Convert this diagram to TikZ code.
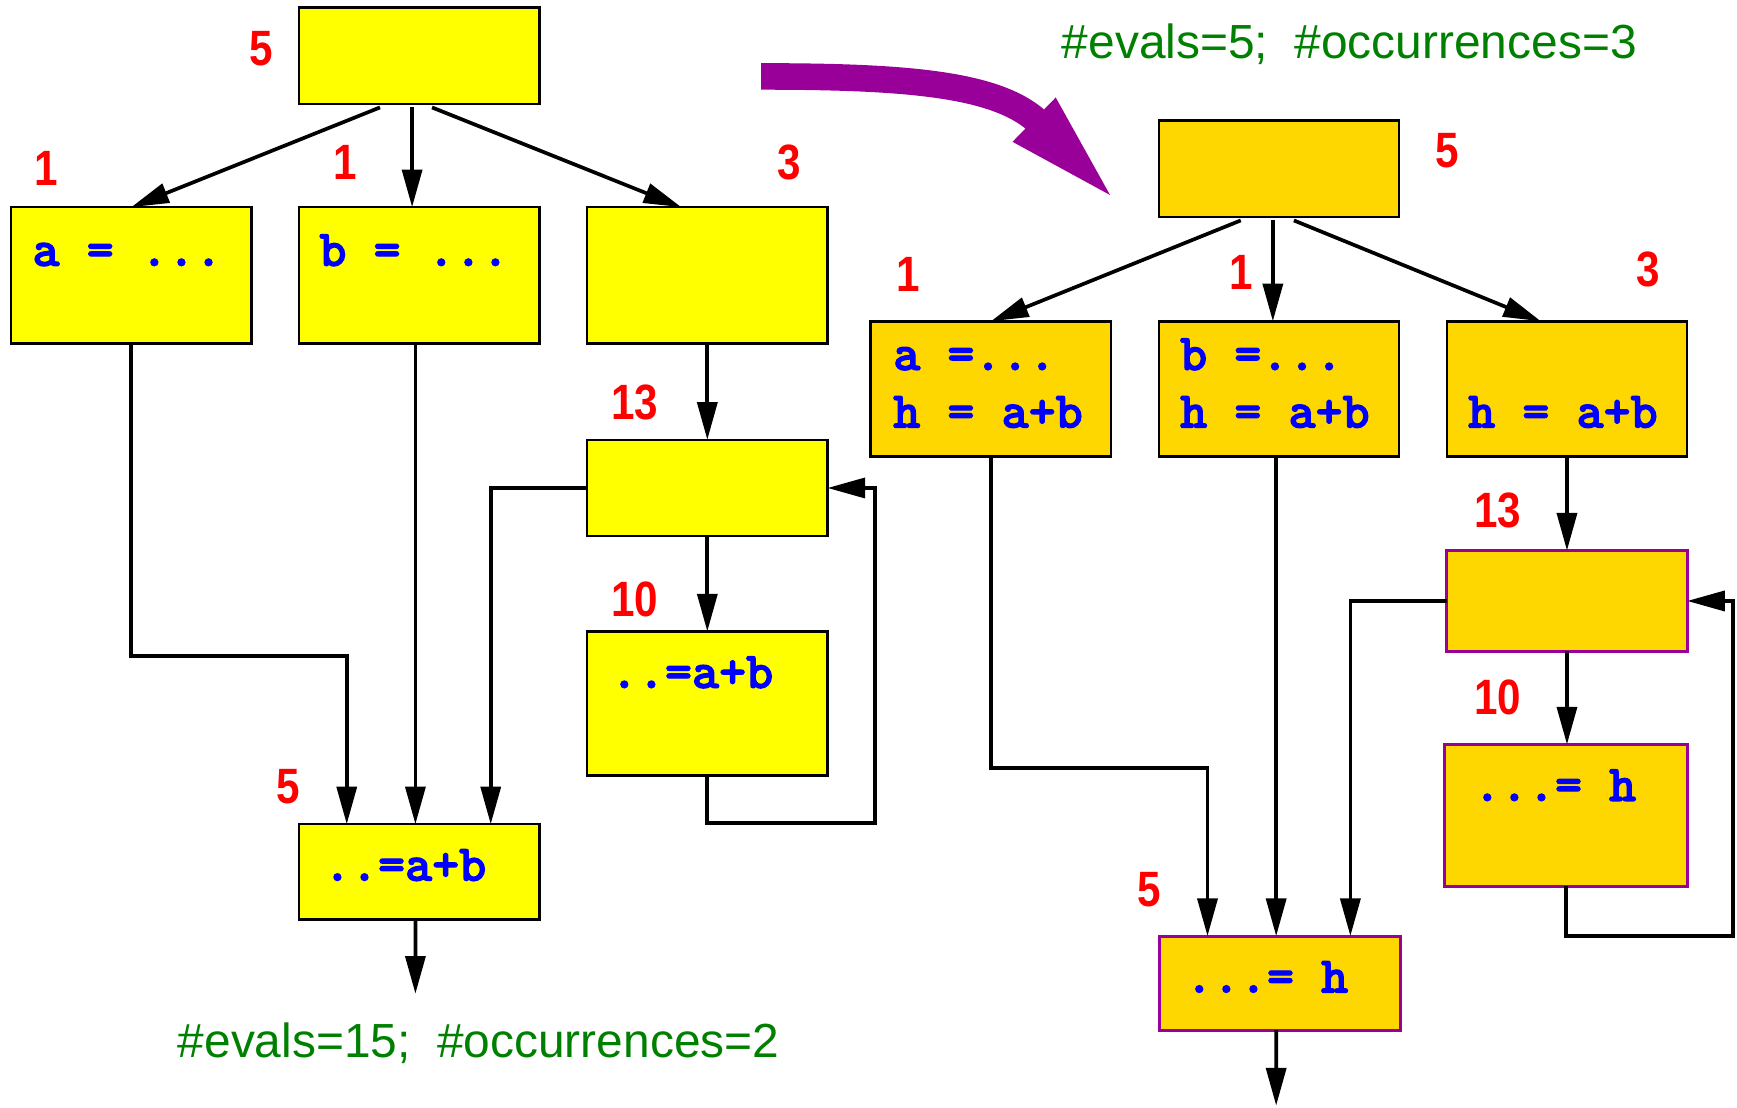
\documentclass[tikz,border=0pt]{standalone}
\usepackage{fontspec}
\setmainfont{Liberation Sans}
\newfontfamily\countfont{Liberation Sans Bold}[FakeStretch=0.85]
\newfontfamily\codefont{lmmonolt10-bold.otf}[FakeBold=2.2]
\usetikzlibrary{arrows.meta}
\definecolor{boxyellow}{RGB}{255,255,0}
\definecolor{boxgold}{RGB}{255,215,0}
\definecolor{loopviolet}{RGB}{153,0,153}
\definecolor{countred}{RGB}{255,0,0}
\definecolor{codeblue}{RGB}{0,0,255}
\definecolor{statgreen}{RGB}{0,128,0}

\begin{document}
\begin{tikzpicture}[x=0.02cm,y=-0.02cm,
  block/.style={draw=black, line width=1.3pt, minimum width=4.34cm, inner sep=0pt, outer sep=0pt},
  oldblock/.style={block, fill=boxyellow},
  newblock/.style={block, fill=boxgold},
  hoisted/.style={newblock, draw=loopviolet, line width=1.5pt},
  countlabel/.style={text=countred, font=\fontsize{25.5}{30}\countfont, inner sep=0pt},
  codetext/.style={text=codeblue, font=\fontsize{26.5}{30}\codefont, anchor=base west, inner sep=0pt},
  stattext/.style={text=statgreen, font=\fontsize{24.6}{30}\selectfont, inner sep=0pt},
  flowarrow/.style={line width=1.9pt, -{Triangle[length=0.68cm,width=0.36cm]}},
]
\useasboundingbox (0,0) rectangle (1568,1000);

% ---------------- original program (left) ----------------
\node[oldblock, minimum height=1.74cm] (T) at (378.5,50.5) {};
\node[oldblock, minimum height=2.46cm] (A) at (118.5,248.5) {};
\node[oldblock, minimum height=2.46cm] (B) at (378.5,248.5) {};
\node[oldblock, minimum height=2.46cm] (C) at (638.5,248.5) {};
\node[oldblock, minimum height=1.74cm] (D) at (638.5,440.5) {};
\node[oldblock, minimum height=2.60cm] (E) at (638.5,635) {};
\node[oldblock, minimum height=1.72cm] (F) at (378.5,787) {};

\node[codetext] (Atxt) at (29,240) {a = ...};
\node[codetext] (Btxt) at (288,240) {b = ...};
\node[codetext] (Etxt) at (551,621) {..=a+b};
\node[codetext] (Ftxt) at (292,795) {..=a+b};

\node[countlabel] (nT) at (236,44) {5};
\node[countlabel] (nA) at (42,152) {1};
\node[countlabel] (nB) at (312,147) {1};
\node[countlabel] (nC) at (712,147) {3};
\node[countlabel] (nD) at (573,363) {13};
\node[countlabel] (nE) at (573,541) {10};
\node[countlabel] (nF) at (260,710) {5};

\coordinate (Fout) at (375,897);

\draw[flowarrow] ([xshift=-0.71cm,yshift=-0.06cm]T.south) -- (A.north);
\draw[flowarrow] ([xshift=-0.13cm,yshift=-0.06cm]T.south) -- ([xshift=-0.13cm]B.north);
\draw[flowarrow] ([xshift=0.23cm,yshift=-0.06cm]T.south) -- ([xshift=-0.47cm]C.north);
\draw[flowarrow] (C.south) -- (D.north);
\draw[flowarrow] (D.south) -- (E.north);
\draw[flowarrow] (E.south) -- ++(0,43) -- ++(151.5,0) |- (D.east);
\draw[flowarrow] (D.west) -| ([xshift=1.29cm]F.north);
\draw[flowarrow] (A.south) -- ++(0,282) -| ([xshift=-1.31cm]F.north);
\draw[flowarrow] ([xshift=-0.07cm]B.south) -- ([xshift=-0.07cm]F.north);
\draw[flowarrow] ([xshift=-0.07cm]F.south) -- (Fout);

\node[stattext] (statL) at (432,942) {\#evals=15;\ \ \#occurrences=2};

% ---------------- transformed program (right) ----------------
\node[newblock, minimum height=1.74cm] (T2) at (1154.5,152.5) {};
\node[newblock, minimum height=2.44cm] (A2) at (894.5,351) {};
\node[newblock, minimum height=2.44cm] (B2) at (1154.5,351) {};
\node[newblock, minimum height=2.44cm] (C2) at (1414.5,351) {};
\node[hoisted, minimum height=1.82cm] (D2) at (1414.5,542.5) {};
\node[hoisted, minimum width=4.38cm, minimum height=2.56cm] (E2) at (1413.5,736) {};
\node[hoisted, minimum height=1.70cm] (G) at (1155.5,887.5) {};

\node[codetext] (A2a) at (806,334) {a =...};
\node[codetext] (A2h) at (806,386) {h = a+b};
\node[codetext] (B2b) at (1065,334) {b =...};
\node[codetext] (B2h) at (1065,386) {h = a+b};
\node[codetext] (C2h) at (1325,386) {h = a+b};
\node[codetext] (E2txt) at (1330,723) {...= h};
\node[codetext] (Gtxt) at (1070,896) {...= h};

\node[countlabel] (nT2) at (1306,136) {5};
\node[countlabel] (nA2) at (820,248) {1};
\node[countlabel] (nB2) at (1120,246) {1};
\node[countlabel] (nC2) at (1488,243) {3};
\node[countlabel] (nD2) at (1352,461) {13};
\node[countlabel] (nE2) at (1352,630) {10};
\node[countlabel] (nG) at (1037,803) {5};

\coordinate (Gout) at (1152,998);

\draw[flowarrow] ([xshift=-0.69cm,yshift=-0.06cm]T2.south) -- (A2.north);
\draw[flowarrow] ([xshift=-0.11cm,yshift=-0.06cm]T2.south) -- ([xshift=-0.11cm]B2.north);
\draw[flowarrow] ([xshift=0.27cm,yshift=-0.06cm]T2.south) -- ([xshift=-0.47cm]C2.north);
\draw[flowarrow] (C2.south) -- (D2.north);
\draw[flowarrow] (D2.south) -- (D2.south |- E2.north);
\draw[flowarrow] (E2.south) -- ++(0,45) -- ++(151,0) |- (D2.east);
\draw[flowarrow] (D2.west) -| ([xshift=1.27cm]G.north);
\draw[flowarrow] (A2.south) -- ++(0,281) -| ([xshift=-1.31cm]G.north);
\draw[flowarrow] ([xshift=-0.05cm]B2.south) -- ([xshift=-0.05cm]B2.south |- G.north);
\draw[flowarrow] ([xshift=-0.07cm]G.south) -- (Gout);

\node[stattext] (statR) at (1218,40) {\#evals=5;\ \ \#occurrences=3};

% ---------------- transformation arrow ----------------
\coordinate (bandStart) at (687,69);
\coordinate (bandEnd) at (937,110);
\coordinate (headL) at (953,88);
\coordinate (headR) at (914,128);
\coordinate (headTip) at (1002,176);
\draw[line width=0.48cm, loopviolet] (bandStart) .. controls (820,69) and (900,76) .. (bandEnd);
\fill[loopviolet] (headL) -- (headTip) -- (headR) -- cycle;

\end{tikzpicture}
\end{document}
